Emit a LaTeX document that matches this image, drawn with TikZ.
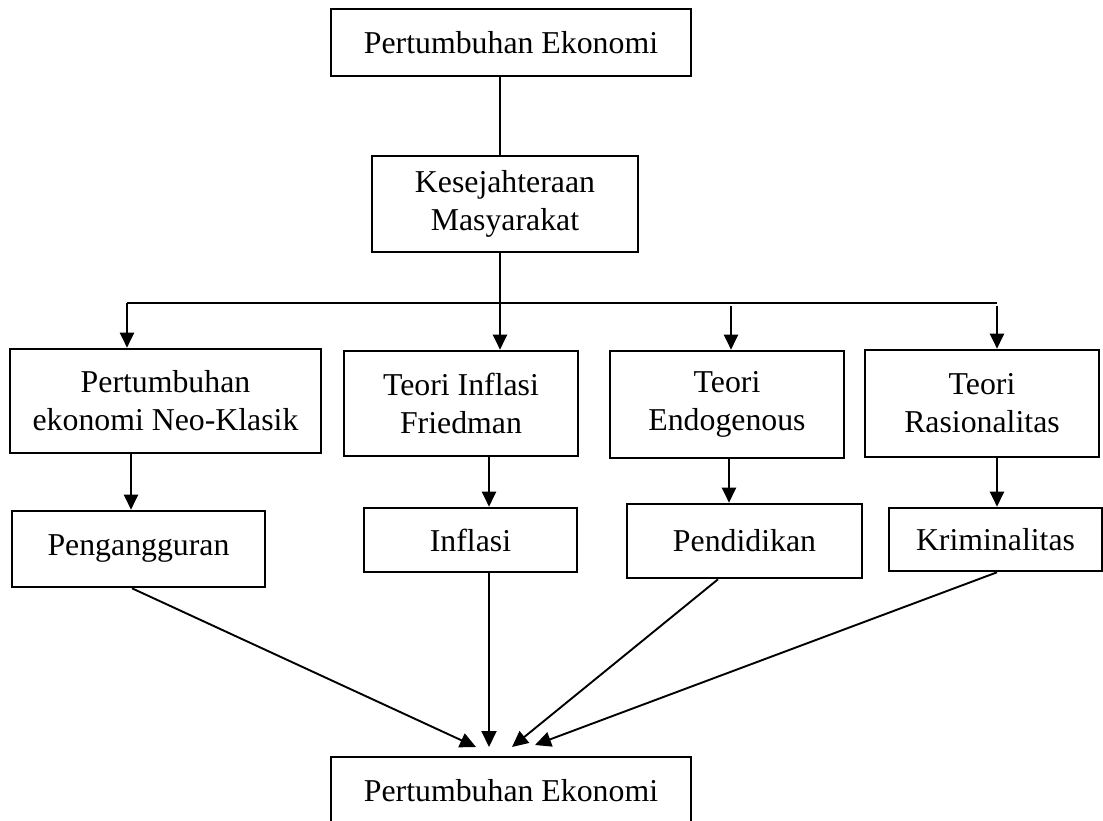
\documentclass[tikz,border=0pt]{standalone}
\usepackage{fontspec}
\setmainfont{Liberation Serif}
\usetikzlibrary{arrows.meta}
\begin{document}
\begin{tikzpicture}[x=1pt,y=-1pt,
  box/.style={draw=black, line width=2.6pt, inner sep=0pt, align=center,
    font=\fontsize{31.8}{38}\selectfont},
  thin/.style={line width=1.3pt},
  conn/.style={line width=2.2pt, -{Triangle[length=15pt,width=14pt]}},
  diag/.style={line width=1.9pt, -{Triangle[length=16pt,width=15pt]}}]
\useasboundingbox[fill=white] (0,0) rectangle (1103,821);
% boxes
\node[box, minimum width=360pt, minimum height=67pt] (top) at (511,42.5) {Pertumbuhan Ekonomi};
\node[box, minimum width=266pt, minimum height=96pt] (kes) at (505,204) {Kesejahteraan\\Masyarakat};
\node[box, minimum width=311pt, minimum height=104pt] (b1) at (165.5,401) {Pertumbuhan\\ekonomi Neo-Klasik};
\node[box, minimum width=234pt, minimum height=105pt] (b2) at (461,403.5) {Teori Inflasi\\Friedman};
\node[box, minimum width=234pt, minimum height=107pt] (b3) at (727,404.5) {Teori\\Endogenous};
\node[box, minimum width=234pt, minimum height=107pt] (b4) at (982,403.5) {Teori\\Rasionalitas};
\node[box, minimum width=253pt, minimum height=76pt] (c1) at (138.5,549) {Pengangguran};
\node[box, minimum width=213pt, minimum height=64pt] (c2) at (470.5,540) {Inflasi};
\node[box, minimum width=235pt, minimum height=74pt] (c3) at (744.5,541) {Pendidikan};
\node[box, minimum width=213pt, minimum height=63pt] (c4) at (995.5,539.5) {Kriminalitas};
\node[box, minimum width=360pt, minimum height=67pt] (bot) at (511,790.5) {Pertumbuhan Ekonomi};
% junction coordinates
\coordinate (J) at (500,303);
\coordinate (L) at (127,303);
\coordinate (R) at (997,303);
\coordinate (M) at (731,306);
\coordinate (Rb) at (997,306);
\coordinate (a1) at (131,0);
\coordinate (a2) at (489,0);
\coordinate (a3) at (729,0);
\coordinate (a4) at (997,0);
\coordinate (s1) at (132,0);
\coordinate (s3) at (718,0);
\coordinate (t1) at (476,747);
\coordinate (t2) at (489,747);
\coordinate (t3) at (512,747);
\coordinate (t4) at (535,745);
% top connectors
\draw[thin] (top.south -| J) -- (kes.north -| J);
\draw[thin] (L) -- (R);
\draw[conn] (kes.south -| J) -- (b2.north -| J);
\draw[conn] (L) -- (b1.north -| L);
\draw[conn] (M) -- (b3.north -| M);
\draw[conn] (Rb) -- (b4.north -| Rb);
% second row
\draw[conn] (b1.south -| a1) -- (c1.north -| a1);
\draw[conn] (b2.south -| a2) -- (c2.north -| a2);
\draw[conn] (b3.south -| a3) -- (c3.north -| a3);
\draw[conn] (b4.south -| a4) -- (c4.north -| a4);
% to bottom
\draw[diag] (c1.south -| s1) -- (t1);
\draw[diag] (c2.south -| a2) -- (t2);
\draw[diag] (c3.south -| s3) -- (t3);
\draw[diag] (c4.south -| a4) -- (t4);
\end{tikzpicture}
\end{document}
